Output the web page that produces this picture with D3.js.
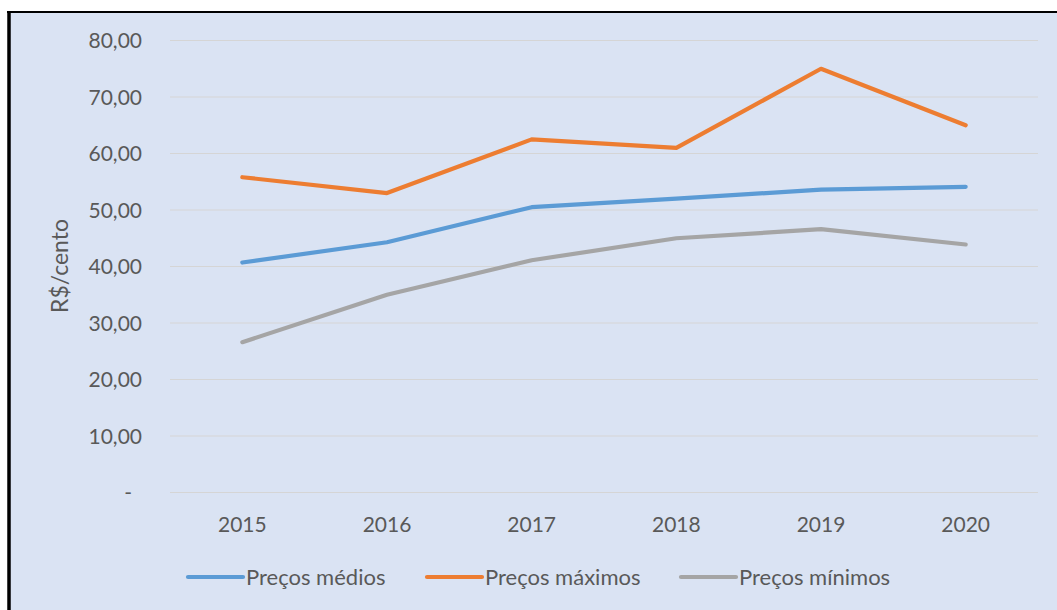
<!DOCTYPE html>
<html><head><meta charset="utf-8">
<script src="https://cdn.jsdelivr.net/npm/d3@7"></script>
<style>body{margin:0;background:#fff;}svg{display:block;font-family:Lato,"Open Sans",sans-serif;}</style>
</head><body>
<svg id="c" width="1057" height="610"></svg>
<script>
const years = ["2015","2016","2017","2018","2019","2020"];
const precosMedios = [40.7, 44.3, 50.5, 52.0, 53.6, 54.1];
const precosMaximos = [55.8, 53.0, 62.5, 61.0, 75.0, 65.0];
const precosMinimos = [26.6, 35.0, 41.1, 45.0, 46.6, 43.9];
const yTicks = [0,10,20,30,40,50,60,70,80];
const seriesNames = ["Preços médios","Preços máximos","Preços mínimos"];
const seriesColors = ["#5B9BD5","#ED7D31","#A5A5A5"];
const yTitle = "R$/cento";

const svg = d3.select("#c");
svg.append("rect").attr("x",9).attr("y",12).attr("width",1048).attr("height",598).attr("fill","#DAE3F3");
svg.append("line").attr("x1",7).attr("x2",1057).attr("y1",12).attr("y2",12).attr("stroke","#000").attr("stroke-width",2.2);
svg.append("line").attr("x1",9).attr("x2",9).attr("y1",11).attr("y2",610).attr("stroke","#000").attr("stroke-width",3.5);

const x = d3.scalePoint().domain(years).range([170,1038]).padding(0.5);
const y = d3.scaleLinear().domain([0,80]).range([492.5,40.5]);

const grid = svg.append("g");
yTicks.forEach(t=>{
  grid.append("line").attr("x1",170).attr("x2",1038).attr("y1",y(t)).attr("y2",y(t))
    .attr("stroke","#D5D5D5").attr("stroke-width",1.2);
});

const fmt = v => v===0 ? "-" : d3.format(".2f")(v).replace(".",",");
const yAxis = svg.append("g").attr("fill","#595959").attr("font-size",21);
yTicks.forEach(t=>{
  yAxis.append("text").attr("x", t===0?132:142).attr("y",y(t)).attr("dy","0.36em")
    .attr("text-anchor","end").text(fmt(t));
});
const xAxis = svg.append("g").attr("fill","#595959").attr("font-size",21);
years.forEach(yr=>{
  xAxis.append("text").attr("x",x(yr)).attr("y",524.5).attr("dy","0.36em")
    .attr("text-anchor","middle").text(yr);
});
svg.append("text").attr("transform","translate(60,266) rotate(-90)").attr("dy","0.36em")
  .attr("text-anchor","middle").attr("fill","#595959").attr("font-size",23).text(yTitle);

const data = [precosMedios, precosMaximos, precosMinimos];
const line = d3.line().x((d,i)=>x(years[i])).y(d=>y(d));
data.forEach((s,k)=>{
  svg.append("path").attr("d",line(s)).attr("fill","none").attr("stroke",seriesColors[k])
    .attr("stroke-width",4.2).attr("stroke-linecap","round").attr("stroke-linejoin","round");
});

const legX = [188, 427, 681];
const leg = svg.append("g");
seriesNames.forEach((n,k)=>{
  leg.append("line").attr("x1",legX[k]).attr("x2",legX[k]+55).attr("y1",577).attr("y2",577)
    .attr("stroke",seriesColors[k]).attr("stroke-width",4.2).attr("stroke-linecap","round");
  leg.append("text").attr("x",legX[k]+58).attr("y",577).attr("dy","0.36em")
    .attr("fill","#595959").attr("font-size",22).text(n);
});
</script>
</body></html>
